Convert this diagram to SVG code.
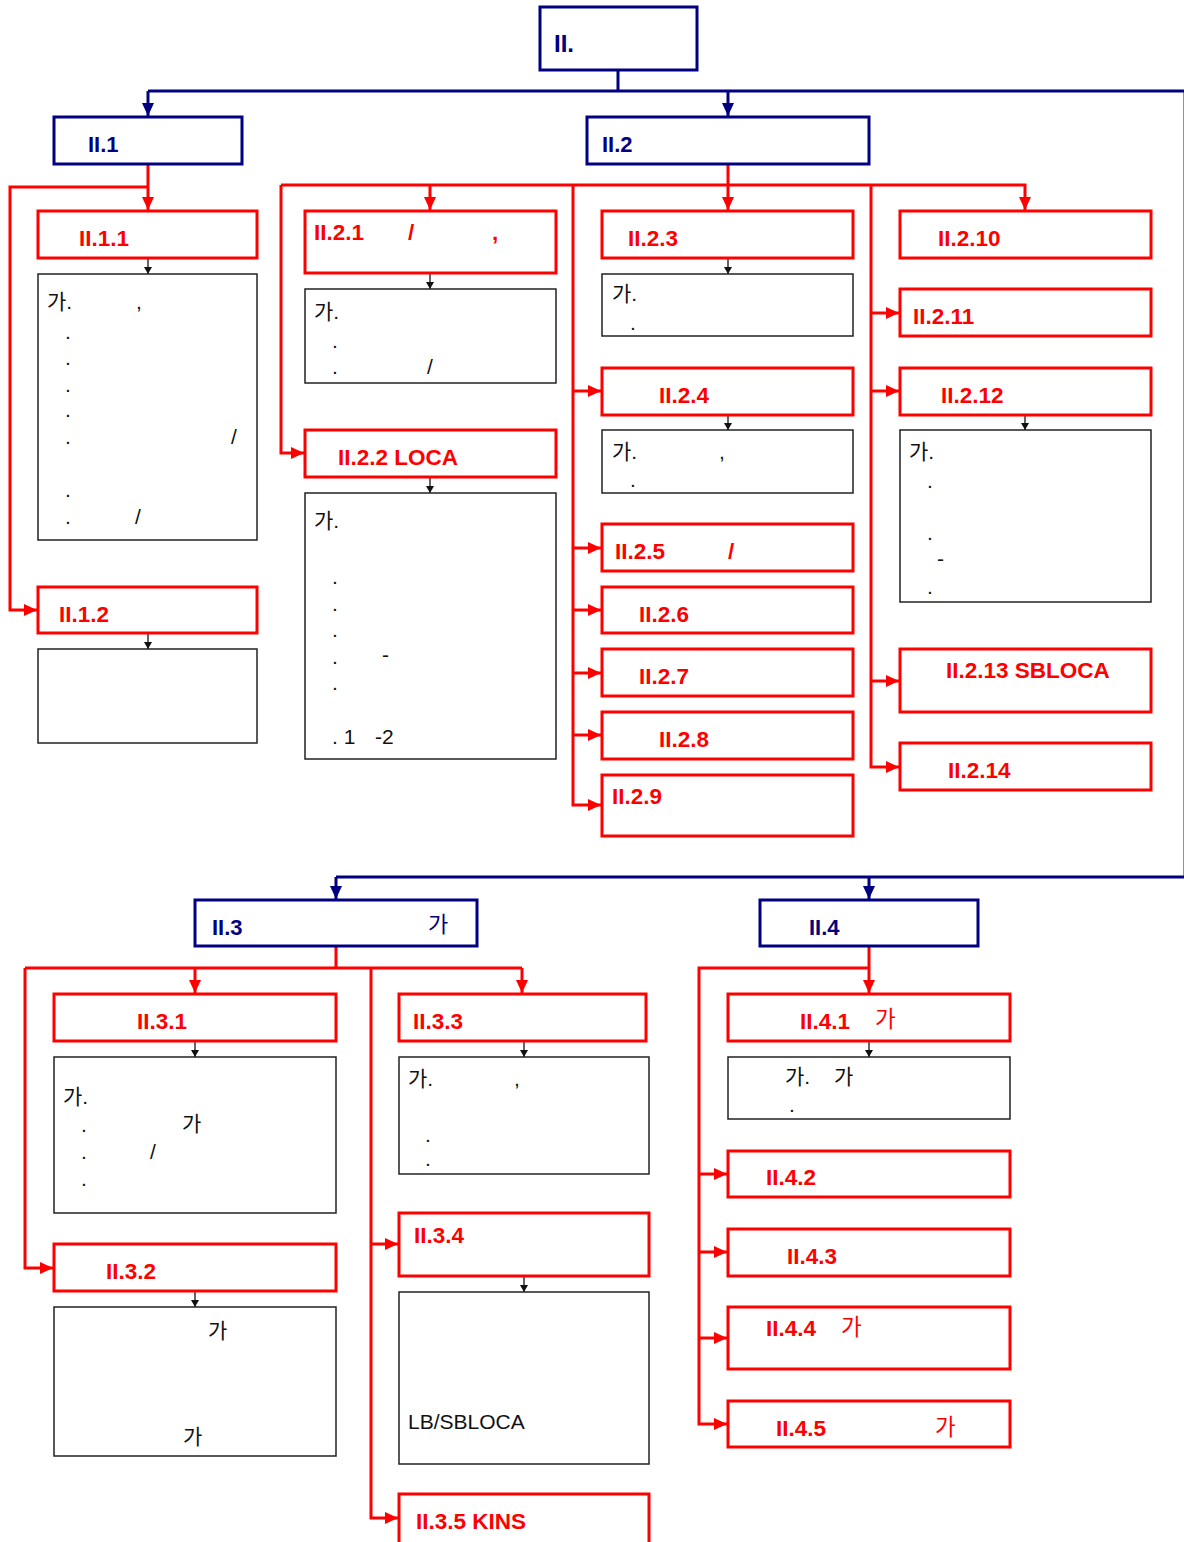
<svg xmlns="http://www.w3.org/2000/svg" width="1184" height="1542" viewBox="0 0 1184 1542">
<style>
.rb{fill:#fff;stroke:#FF0000;stroke-width:3}
.bb{fill:#fff;stroke:#000080;stroke-width:3}
.kb{fill:#fff;stroke:#222;stroke-width:1.5}
.rt{font-family:"Liberation Sans",Arial,"Noto Sans CJK KR",sans-serif;font-weight:bold;font-size:22.5px;fill:#FF0000}
.bt{font-family:"Liberation Sans",Arial,"Noto Sans CJK KR",sans-serif;font-weight:bold;font-size:22px;fill:#000080}
.nt{font-family:"Liberation Sans",Arial,"Noto Sans CJK KR",sans-serif;font-size:21px;fill:#111}
.kr{font-family:"Noto Sans CJK KR",sans-serif;font-weight:normal}
.rl{fill:none;stroke:#FF0000;stroke-width:3}
.bl{fill:none;stroke:#000080;stroke-width:3}
.kl{fill:none;stroke:#111;stroke-width:1.3}
</style>
<defs>
<marker id="ar" markerUnits="userSpaceOnUse" markerWidth="14" markerHeight="12" refX="13" refY="6" orient="auto"><path d="M0,0 L13,6 L0,12 z" fill="#FF0000"/></marker>
<marker id="ab" markerUnits="userSpaceOnUse" markerWidth="14" markerHeight="12" refX="13" refY="6" orient="auto"><path d="M0,0 L13,6 L0,12 z" fill="#000080"/></marker>
<marker id="ak" markerUnits="userSpaceOnUse" markerWidth="8" markerHeight="8" refX="7" refY="4" orient="auto"><path d="M0,0 L7,4 L0,8 z" fill="#111"/></marker>
</defs>
<g id="connectors">
<path class="bl" d="M618,70 V91 M148,91 H1186 M336,877 H1186"/>
<path d="M1184.5,91 V877" stroke="#000080" stroke-width="3" stroke-opacity="0.45" fill="none"/>
<path class="bl" d="M148,91 V116" marker-end="url(#ab)"/>
<path class="bl" d="M728,91 V116" marker-end="url(#ab)"/>
<path class="bl" d="M336,877 V899" marker-end="url(#ab)"/>
<path class="bl" d="M869,877 V899" marker-end="url(#ab)"/>
<path class="rl" d="M148,164 V210" marker-end="url(#ar)"/>
<path class="rl" d="M148,187 H10 V610 H37" marker-end="url(#ar)"/>
<path class="rl" d="M728,164 V210" marker-end="url(#ar)"/>
<path class="rl" d="M281,185 H1025 V210" marker-end="url(#ar)"/>
<path class="rl" d="M430,185 V210" marker-end="url(#ar)"/>
<path class="rl" d="M281,185 V453 H304" marker-end="url(#ar)"/>
<path class="rl" d="M573,185 V805 H601" marker-end="url(#ar)"/>
<path class="rl" d="M573,391 H601" marker-end="url(#ar)"/>
<path class="rl" d="M573,548 H601" marker-end="url(#ar)"/>
<path class="rl" d="M573,610 H601" marker-end="url(#ar)"/>
<path class="rl" d="M573,673 H601" marker-end="url(#ar)"/>
<path class="rl" d="M573,735 H601" marker-end="url(#ar)"/>
<path class="rl" d="M871,185 V767 H899" marker-end="url(#ar)"/>
<path class="rl" d="M871,313 H899" marker-end="url(#ar)"/>
<path class="rl" d="M871,391 H899" marker-end="url(#ar)"/>
<path class="rl" d="M871,681 H899" marker-end="url(#ar)"/>
<path class="rl" d="M336,946 V968 M25,968 H522"/>
<path class="rl" d="M522,968 V993" marker-end="url(#ar)"/>
<path class="rl" d="M195,968 V993" marker-end="url(#ar)"/>
<path class="rl" d="M25,968 V1268 H53" marker-end="url(#ar)"/>
<path class="rl" d="M371,968 V1518 H398" marker-end="url(#ar)"/>
<path class="rl" d="M371,1244 H398" marker-end="url(#ar)"/>
<path class="rl" d="M869,946 V993" marker-end="url(#ar)"/>
<path class="rl" d="M869,968 H699 V1424 H727" marker-end="url(#ar)"/>
<path class="rl" d="M699,1174 H727" marker-end="url(#ar)"/>
<path class="rl" d="M699,1252 H727" marker-end="url(#ar)"/>
<path class="rl" d="M699,1338 H727" marker-end="url(#ar)"/>
<path class="kl" d="M148,259 V274" marker-end="url(#ak)"/>
<path class="kl" d="M148,634 V649" marker-end="url(#ak)"/>
<path class="kl" d="M430,274 V289" marker-end="url(#ak)"/>
<path class="kl" d="M430,478 V493" marker-end="url(#ak)"/>
<path class="kl" d="M728,259 V274" marker-end="url(#ak)"/>
<path class="kl" d="M728,416 V430" marker-end="url(#ak)"/>
<path class="kl" d="M1025,416 V430" marker-end="url(#ak)"/>
<path class="kl" d="M195,1042 V1057" marker-end="url(#ak)"/>
<path class="kl" d="M195,1292 V1307" marker-end="url(#ak)"/>
<path class="kl" d="M524,1042 V1057" marker-end="url(#ak)"/>
<path class="kl" d="M524,1277 V1292" marker-end="url(#ak)"/>
<path class="kl" d="M869,1042 V1057" marker-end="url(#ak)"/>
</g>
<g id="n-II"><rect class="bb" x="540" y="7" width="157" height="63"/><text class="bt" x="554" y="52" style="font-size:24px">II.</text></g>
<g id="n-II1"><rect class="bb" x="54" y="117" width="188" height="47"/><text class="bt" x="88" y="152">II.1</text></g>
<g id="n-II2"><rect class="bb" x="587" y="117" width="282" height="47"/><text class="bt" x="602" y="152">II.2</text></g>
<g id="n-II11"><rect class="rb" x="38" y="211" width="219" height="47"/><text class="rt" x="79" y="246">II.1.1</text></g>
<g id="n-II11d"><rect class="kb" x="38" y="274" width="219" height="266"/>
<text class="nt"><tspan x="47" y="309">가.</tspan><tspan x="136" y="309">,</tspan><tspan x="65" y="339">.</tspan><tspan x="65" y="365">.</tspan><tspan x="65" y="392">.</tspan><tspan x="65" y="417">.</tspan><tspan x="65" y="444">.</tspan><tspan x="231" y="444">/</tspan><tspan x="65" y="497">.</tspan><tspan x="65" y="524">.</tspan><tspan x="135" y="524">/</tspan></text></g>
<g id="n-II12"><rect class="rb" x="38" y="587" width="219" height="46"/><text class="rt" x="59" y="622">II.1.2</text></g>
<g id="n-II12d"><rect class="kb" x="38" y="649" width="219" height="94"/></g>
<g id="n-II21"><rect class="rb" x="305" y="211" width="251" height="62"/><text class="rt" x="314" y="240">II.2.1<tspan x="408">/</tspan><tspan x="492">,</tspan></text></g>
<g id="n-II21d"><rect class="kb" x="305" y="289" width="251" height="94"/>
<text class="nt"><tspan x="314" y="319">가.</tspan><tspan x="332" y="348">.</tspan><tspan x="332" y="374">.</tspan><tspan x="427" y="374">/</tspan></text></g>
<g id="n-II22"><rect class="rb" x="305" y="430" width="251" height="47"/><text class="rt" x="338" y="465">II.2.2 LOCA</text></g>
<g id="n-II22d"><rect class="kb" x="305" y="493" width="251" height="266"/>
<text class="nt"><tspan x="314" y="528">가.</tspan><tspan x="332" y="584">.</tspan><tspan x="332" y="611">.</tspan><tspan x="332" y="637">.</tspan><tspan x="332" y="664">.</tspan><tspan x="382" y="662">-</tspan><tspan x="332" y="690">.</tspan><tspan x="332" y="744">. 1</tspan><tspan x="375" y="744">-2</tspan></text></g>
<g id="n-II23"><rect class="rb" x="602" y="211" width="251" height="47"/><text class="rt" x="628" y="246">II.2.3</text></g>
<g id="n-II23d"><rect class="kb" x="602" y="274" width="251" height="62"/>
<text class="nt"><tspan x="612" y="301">가.</tspan><tspan x="630" y="330">.</tspan></text></g>
<g id="n-II24"><rect class="rb" x="602" y="368" width="251" height="47"/><text class="rt" x="659" y="403">II.2.4</text></g>
<g id="n-II24d"><rect class="kb" x="602" y="430" width="251" height="63"/>
<text class="nt"><tspan x="612" y="459">가.</tspan><tspan x="719" y="459">,</tspan><tspan x="630" y="487">.</tspan></text></g>
<g id="n-II25"><rect class="rb" x="602" y="524" width="251" height="47"/><text class="rt" x="615" y="559">II.2.5<tspan x="728">/</tspan></text></g>
<g id="n-II26"><rect class="rb" x="602" y="587" width="251" height="46"/><text class="rt" x="639" y="622">II.2.6</text></g>
<g id="n-II27"><rect class="rb" x="602" y="649" width="251" height="47"/><text class="rt" x="639" y="684">II.2.7</text></g>
<g id="n-II28"><rect class="rb" x="602" y="712" width="251" height="47"/><text class="rt" x="659" y="747">II.2.8</text></g>
<g id="n-II29"><rect class="rb" x="602" y="775" width="251" height="61"/><text class="rt" x="612" y="804">II.2.9</text></g>
<g id="n-II210"><rect class="rb" x="900" y="211" width="251" height="47"/><text class="rt" x="938" y="246">II.2.10</text></g>
<g id="n-II211"><rect class="rb" x="900" y="289" width="251" height="47"/><text class="rt" x="913" y="324">II.2.11</text></g>
<g id="n-II212"><rect class="rb" x="900" y="368" width="251" height="47"/><text class="rt" x="941" y="403">II.2.12</text></g>
<g id="n-II212d"><rect class="kb" x="900" y="430" width="251" height="172"/>
<text class="nt"><tspan x="909" y="459">가.</tspan><tspan x="927" y="488">.</tspan><tspan x="927" y="540">.</tspan><tspan x="937" y="566">-</tspan><tspan x="927" y="594">.</tspan></text></g>
<g id="n-II213"><rect class="rb" x="900" y="649" width="251" height="63"/><text class="rt" x="946" y="678">II.2.13 SBLOCA</text></g>
<g id="n-II214"><rect class="rb" x="900" y="743" width="251" height="47"/><text class="rt" x="948" y="778">II.2.14</text></g>
<g id="n-II3"><rect class="bb" x="195" y="900" width="282" height="46"/><text class="bt" x="212" y="935">II.3<tspan class="kr" x="428" y="932">가</tspan></text></g>
<g id="n-II4"><rect class="bb" x="760" y="900" width="218" height="46"/><text class="bt" x="809" y="935">II.4</text></g>
<g id="n-II31"><rect class="rb" x="54" y="994" width="282" height="47"/><text class="rt" x="137" y="1029">II.3.1</text></g>
<g id="n-II31d"><rect class="kb" x="54" y="1057" width="282" height="156"/>
<text class="nt"><tspan x="63" y="1104">가.</tspan><tspan x="182" y="1131">가</tspan><tspan x="81" y="1132">.</tspan><tspan x="81" y="1159">.</tspan><tspan x="150" y="1159">/</tspan><tspan x="81" y="1186">.</tspan></text></g>
<g id="n-II32"><rect class="rb" x="54" y="1244" width="282" height="47"/><text class="rt" x="106" y="1279">II.3.2</text></g>
<g id="n-II32d"><rect class="kb" x="54" y="1307" width="282" height="149"/>
<text class="nt"><tspan x="208" y="1338">가</tspan><tspan x="183" y="1444">가</tspan></text></g>
<g id="n-II33"><rect class="rb" x="399" y="994" width="247" height="47"/><text class="rt" x="413" y="1029">II.3.3</text></g>
<g id="n-II33d"><rect class="kb" x="399" y="1057" width="250" height="117"/>
<text class="nt"><tspan x="408" y="1086">가.</tspan><tspan x="514" y="1086">,</tspan><tspan x="425" y="1142">.</tspan><tspan x="425" y="1166">.</tspan></text></g>
<g id="n-II34"><rect class="rb" x="399" y="1213" width="250" height="63"/><text class="rt" x="414" y="1243">II.3.4</text></g>
<g id="n-II34d"><rect class="kb" x="399" y="1292" width="250" height="172"/><text class="nt" x="408" y="1429">LB/SBLOCA</text></g>
<g id="n-II35"><rect class="rb" x="399" y="1494" width="250" height="60"/><text class="rt" x="416" y="1529">II.3.5 KINS</text></g>
<g id="n-II41"><rect class="rb" x="728" y="994" width="282" height="47"/><text class="rt" x="800" y="1029">II.4.1<tspan class="kr" x="875" y="1027">가</tspan></text></g>
<g id="n-II41d"><rect class="kb" x="728" y="1057" width="282" height="62"/>
<text class="nt"><tspan x="785" y="1084">가.</tspan><tspan x="834" y="1084">가</tspan><tspan x="789" y="1112">.</tspan></text></g>
<g id="n-II42"><rect class="rb" x="728" y="1151" width="282" height="46"/><text class="rt" x="766" y="1185">II.4.2</text></g>
<g id="n-II43"><rect class="rb" x="728" y="1229" width="282" height="47"/><text class="rt" x="787" y="1264">II.4.3</text></g>
<g id="n-II44"><rect class="rb" x="728" y="1307" width="282" height="62"/><text class="rt" x="766" y="1336">II.4.4<tspan class="kr" x="841" y="1335">가</tspan></text></g>
<g id="n-II45"><rect class="rb" x="728" y="1401" width="282" height="46"/><text class="rt" x="776" y="1436">II.4.5<tspan class="kr" x="935" y="1435">가</tspan></text></g>
</svg>
